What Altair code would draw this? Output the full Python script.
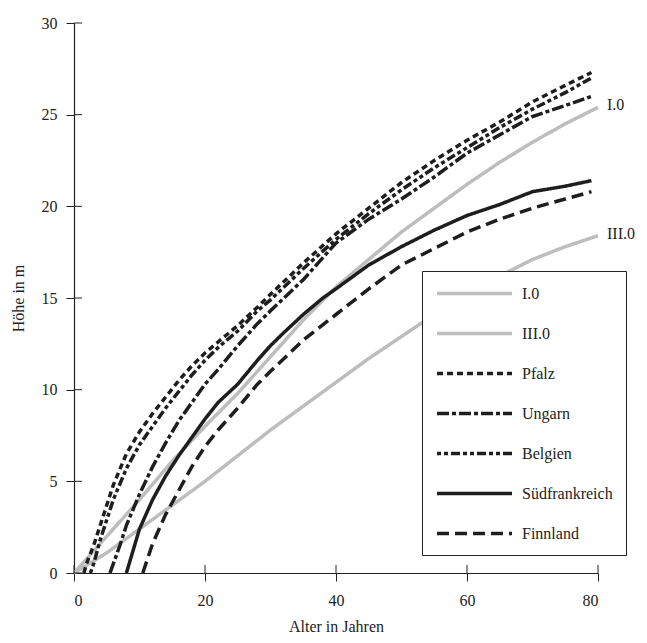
import altair as alt
import pandas as pd

# ---- data ----
series_order = ["I.0", "III.0", "Pfalz", "Ungarn", "Belgien", "Südfrankreich", "Finnland"]

age_I0 = [0, 5, 10, 15, 20, 25, 30, 35, 40, 45, 50, 55, 60, 65, 70, 75, 80]
h_I0 = [0, 2.0, 4.0, 6.1, 8.0, 9.8, 11.8, 13.8, 15.6, 17.1, 18.6, 19.9, 21.2, 22.4, 23.5, 24.5, 25.4]

age_III0 = [0, 5, 10, 15, 20, 25, 30, 35, 40, 45, 50, 55, 60, 65, 70, 75, 80]
h_III0 = [0, 1.1, 2.4, 3.7, 5.0, 6.4, 7.8, 9.1, 10.4, 11.7, 12.9, 14.1, 15.2, 16.2, 17.1, 17.8, 18.4]

age_pfalz = [1.5, 2, 3, 4, 5, 6, 8, 10, 12, 14, 16, 18, 20, 22, 25, 28, 30, 35, 40, 45, 50, 55, 60, 65, 70, 75, 79]
h_pfalz = [0, 0.6, 1.5, 2.6, 3.7, 4.8, 6.5, 7.7, 8.7, 9.6, 10.5, 11.3, 12.0, 12.6, 13.5, 14.5, 15.2, 16.9, 18.5, 19.9, 21.3, 22.5, 23.6, 24.6, 25.7, 26.6, 27.3]

age_ungarn = [5.5, 7, 8, 10, 12, 14, 16, 18, 20, 22, 25, 28, 30, 35, 40, 45, 50, 55, 60, 65, 70, 75, 79]
h_ungarn = [0, 1.5, 2.6, 4.3, 5.8, 7.1, 8.3, 9.3, 10.3, 11.1, 12.4, 13.6, 14.3, 16.0, 18.0, 19.3, 20.4, 21.6, 22.9, 23.9, 24.9, 25.5, 26.0]

age_belgien = [2.5, 3, 4, 5, 6, 8, 10, 12, 14, 16, 18, 20, 22, 25, 28, 30, 35, 40, 45, 50, 55, 60, 65, 70, 75, 79]
h_belgien = [0, 0.5, 1.8, 2.9, 4.0, 5.7, 7.0, 8.0, 9.0, 9.9, 10.8, 11.6, 12.3, 13.2, 14.3, 14.9, 16.6, 18.2, 19.6, 20.9, 22.1, 23.2, 24.3, 25.3, 26.2, 27.0]

age_sued = [8, 9, 10, 12, 14, 16, 18, 20, 22, 25, 28, 30, 32, 35, 38, 40, 45, 50, 55, 60, 65, 70, 75, 79]
h_sued = [0, 1.2, 2.4, 4.0, 5.3, 6.4, 7.4, 8.4, 9.3, 10.3, 11.6, 12.4, 13.1, 14.1, 15.0, 15.5, 16.8, 17.8, 18.7, 19.5, 20.1, 20.8, 21.1, 21.4]

age_finn = [10.5, 12, 14, 16, 18, 20, 22, 25, 28, 30, 35, 40, 45, 50, 55, 60, 65, 70, 75, 79]
h_finn = [0, 1.6, 3.2, 4.5, 5.8, 6.9, 7.8, 9.0, 10.3, 11.0, 12.7, 14.1, 15.5, 16.8, 17.7, 18.6, 19.3, 19.9, 20.4, 20.8]

x_ticks = [0, 20, 40, 60, 80]
y_ticks = [0, 5, 10, 15, 20, 25, 30]

end_labels = ["I.0", "III.0"]
end_x = [80, 80]
end_y = [25.4, 18.4]

# ---- build table ----
rows = []
for name, ages, hs in [
    ("I.0", age_I0, h_I0),
    ("III.0", age_III0, h_III0),
    ("Pfalz", age_pfalz, h_pfalz),
    ("Ungarn", age_ungarn, h_ungarn),
    ("Belgien", age_belgien, h_belgien),
    ("Südfrankreich", age_sued, h_sued),
    ("Finnland", age_finn, h_finn),
]:
    for i, (a, h) in enumerate(zip(ages, hs)):
        rows.append({"series": name, "alter": a, "hoehe": h, "order": i})
df = pd.DataFrame(rows)

colors = ["#bdbdbd", "#bdbdbd", "#1e1e1e", "#1e1e1e", "#1e1e1e", "#1e1e1e", "#1e1e1e"]
dashes = [[1, 0], [1, 0], [6, 4], [12, 3, 4, 3], [4, 3, 4, 3, 9, 3], [1, 0], [12, 6]]
widths = [3.5, 3.5, 1.1, 1.1, 1.1, 1.1, 1.1]

FONT = "Liberation Serif"
W, H = 524, 550

xscale = alt.Scale(domain=[0, 80], nice=False, zero=False)
yscale = alt.Scale(domain=[0, 30], nice=False, zero=False)

legend = alt.Legend(
    title=None,
    orient="none",
    legendX=348,
    legendY=248,
    symbolType="M-1,0H9",
    symbolSize=225,
    labelFont=FONT,
    labelFontSize=16,
    labelColor="#222",
    labelOffset=68,
    rowPadding=22,
    padding=13,
    strokeColor="#222",
    fillColor="white",
)

lines = alt.Chart(df).mark_line().encode(
    x=alt.X("alter:Q", scale=xscale,
            axis=alt.Axis(values=x_ticks, title="Alter in Jahren", tickSize=8,
                          labelPadding=11, titleY=53, titleBaseline="middle")),
    y=alt.Y("hoehe:Q", scale=yscale,
            axis=alt.Axis(values=y_ticks, title="Höhe in m", tickSize=8,
                          labelPadding=9, titleX=-56, titleY=H / 2,
                          titleAngle=270, titleAlign="center", titleBaseline="middle")),
    color=alt.Color("series:N", scale=alt.Scale(domain=series_order, range=colors), legend=legend),
    strokeDash=alt.StrokeDash("series:N", scale=alt.Scale(domain=series_order, range=dashes), legend=legend),
    strokeWidth=alt.StrokeWidth("series:N", scale=alt.Scale(domain=series_order, range=widths), legend=legend),
    order="order:Q",
    detail="series:N",
)

xt = alt.Chart(pd.DataFrame({"v": x_ticks})).mark_rule(color="#222", strokeWidth=1).encode(
    x=alt.X("v:Q", scale=xscale), y=alt.value(H), y2=alt.value(H - 8)
)
yt = alt.Chart(pd.DataFrame({"v": y_ticks})).mark_rule(color="#222", strokeWidth=1).encode(
    y=alt.Y("v:Q", scale=yscale), x=alt.value(0), x2=alt.value(8)
)

labels = alt.Chart(pd.DataFrame({"t": end_labels, "x": end_x, "y": end_y})).mark_text(
    font=FONT, fontSize=16, align="left", baseline="middle", dx=9, dy=-2, color="#222"
).encode(x=alt.X("x:Q", scale=xscale), y=alt.Y("y:Q", scale=yscale), text="t:N")

chart = alt.layer(lines, xt, yt, labels).properties(
    width=W, height=H,
    autosize=alt.AutoSizeParams(type="none"),
    padding={"left": 66, "top": 15, "right": 41, "bottom": 62},
).configure_view(stroke=None).configure_axis(
    grid=False,
    labelFont=FONT, labelFontSize=16, labelColor="#222",
    titleFont=FONT, titleFontSize=16, titleFontWeight="normal", titleColor="#222",
    domainColor="#222", tickColor="#222", domainWidth=1.2, tickWidth=1,
)

chart.save("out.html", embed_options={"renderer": "svg", "actions": False})
